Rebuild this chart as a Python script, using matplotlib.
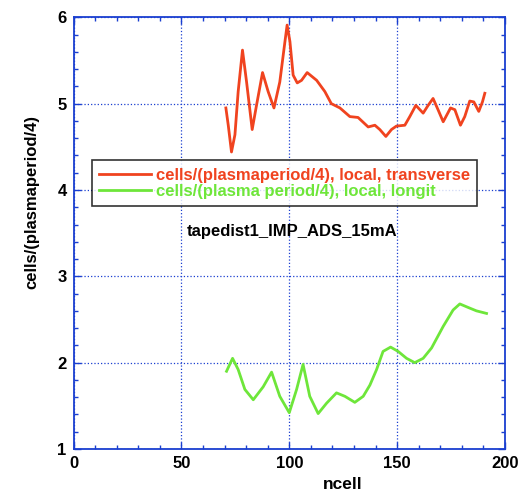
import matplotlib
matplotlib.use("Agg")
import matplotlib.pyplot as plt
from matplotlib.ticker import MultipleLocator

plt.rcParams['font.family'] = ['Liberation Sans', 'DejaVu Sans']
plt.rcParams['font.weight'] = 'bold'

trans_x = [70.6, 71.7, 73.2, 74.8, 76.3, 78.3, 80.2, 82.8, 84.8, 87.6, 90.2, 92.9, 95.6, 98.0, 99.0,
           100.3, 101.8, 103.7, 105.7, 108.3, 112.7, 116.5, 119.5, 123.5, 128.1, 131.9, 136.6, 139.7,
           142.0, 144.8, 147.4, 149.7, 153.6, 155.9, 158.7, 162.1, 164.4, 166.7, 169.0, 171.4, 174.8,
           176.8, 179.4, 181.4, 183.7, 185.6, 187.9, 189.6, 190.7]
trans_y = [4.95, 4.75, 4.44, 4.64, 5.14, 5.62, 5.25, 4.70, 4.98, 5.36, 5.14, 4.95, 5.25, 5.72, 5.91,
           5.72, 5.33, 5.24, 5.27, 5.36, 5.27, 5.14, 5.00, 4.95, 4.85, 4.84, 4.73, 4.75,
           4.70, 4.62, 4.70, 4.74, 4.75, 4.85, 4.98, 4.89, 4.98, 5.06, 4.93, 4.79, 4.95,
           4.93, 4.75, 4.85, 5.03, 5.02, 4.91, 5.02, 5.12]

long_x = [70.9, 73.7, 76.3, 79.4, 83.3, 87.9, 91.8, 95.6, 100.0, 103.4, 106.4, 109.5, 113.4, 117.3,
          121.9, 125.8, 130.4, 134.3, 137.4, 140.5, 143.5, 147.0, 150.5, 154.4, 158.2, 162.1, 166.0,
          171.4, 176.0, 179.1, 182.9, 186.8, 191.5]
long_y = [1.90, 2.05, 1.92, 1.69, 1.57, 1.72, 1.89, 1.61, 1.42, 1.69, 1.98, 1.61, 1.41, 1.53,
          1.65, 1.61, 1.54, 1.61, 1.74, 1.92, 2.13, 2.18, 2.13, 2.05, 2.00, 2.05, 2.17,
          2.42, 2.61, 2.68, 2.64, 2.60, 2.57]

x_ticks = [0, 50, 100, 150, 200]
y_ticks = [1, 2, 3, 4, 5, 6]

red = '#f0431f'
green = '#6ee63a'
blue = '#1a3fd0'

fig = plt.figure(figsize=(5.27, 4.93), dpi=100)
ax = fig.add_axes([0.1398, 0.0893, 0.8182, 0.8756])

ax.plot(trans_x, trans_y, color=red, lw=2.0, label='cells/(plasmaperiod/4), local, transverse',
        solid_joinstyle='round')
ax.plot(long_x, long_y, color=green, lw=2.0, label='cells/(plasma period/4), local, longit',
        solid_joinstyle='round')

ax.set_xlim(0, 200)
ax.set_ylim(1, 6)
ax.set_xticks(x_ticks)
ax.set_yticks(y_ticks)
ax.xaxis.set_minor_locator(MultipleLocator(10))
ax.yaxis.set_minor_locator(MultipleLocator(0.2))
ax.tick_params(which='both', direction='in', top=True, right=True, color=blue, labelsize=12)
ax.tick_params(which='major', length=5, width=1, pad=5)
ax.tick_params(which='minor', length=3, width=1)
for lab in ax.get_xticklabels() + ax.get_yticklabels():
    lab.set_fontweight('bold')
for s in ax.spines.values():
    s.set_color(blue)
    s.set_linewidth(1.3)
ax.grid(True, which='major', color=blue, linestyle=':', linewidth=0.9)

ax.set_xlabel('ncell', fontsize=12.5, fontweight='bold')
ax.xaxis.set_label_coords(0.623, -0.064)
ax.set_ylabel('cells/(plasmaperiod/4)', fontsize=12, fontweight='bold')
ax.yaxis.set_label_coords(-0.080, 0.571)

leg = ax.legend(loc='upper left', bbox_to_anchor=(0.0417, 0.669), fontsize=12, frameon=True,
                fancybox=False, handlelength=3.1, handletextpad=0.3, borderpad=0.45,
                labelspacing=0.05, borderaxespad=0)
leg.get_frame().set_edgecolor('black')
leg.get_frame().set_linewidth(1.2)
for txt, c in zip(leg.get_texts(), [red, green]):
    txt.set_color(c)
    txt.set_fontweight('bold')

ax.text(101.4, 3.52, 'tapedist1_IMP_ADS_15mA', ha='center', va='center', fontsize=12, fontweight='bold')

fig.savefig('out.png', dpi=100)
